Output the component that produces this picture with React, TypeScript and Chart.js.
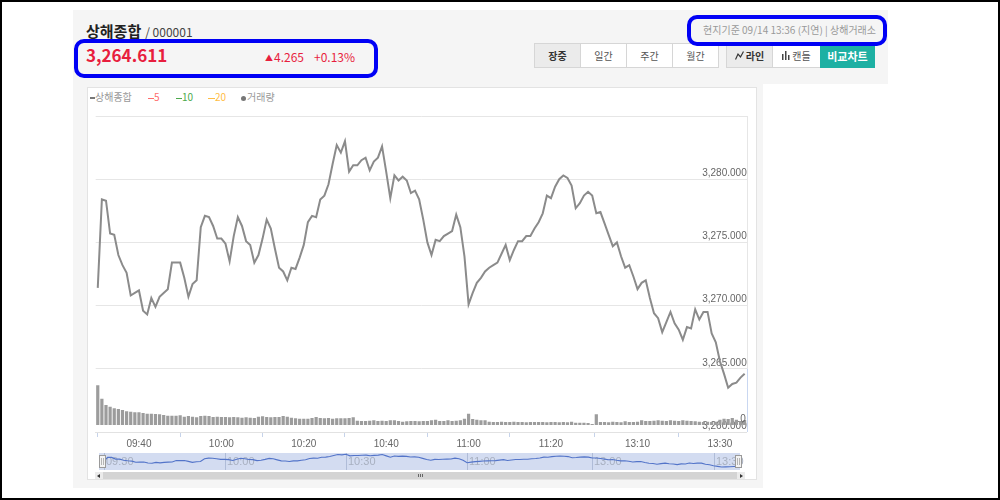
import React, { useEffect, useRef } from "react";
import { Chart, registerables } from "chart.js";

Chart.register(...registerables);

// ---------- data ----------
const SESSIONS: [string, string][] = [
  ["09:30", "11:30"],
  ["13:00", "13:36"],
];

function minuteLabels(sessions: [string, string][]): string[] {
  const toM = (s: string) => {
    const [h, m] = s.split(":").map(Number);
    return h * 60 + m;
  };
  const out: string[] = [];
  for (const [a, b] of sessions) {
    for (let t = toM(a); t <= toM(b); t++) {
      const h = Math.floor(t / 60);
      const m = t % 60;
      out.push(`${String(h).padStart(2, "0")}:${String(m).padStart(2, "0")}`);
    }
  }
  return out;
}

const TIME_LABELS = minuteLabels(SESSIONS);

const PRICE: number[] = [
  3271.4, 3278.4, 3278.3, 3275.7, 3275.6, 3274.0, 3273.2, 3272.6, 3270.8, 3271.0,
  3271.2, 3269.6, 3269.3, 3270.6, 3269.9, 3270.7, 3271.0, 3271.3, 3273.4, 3273.4,
  3273.4, 3272.2, 3270.7, 3271.7, 3272.0, 3276.2, 3277.1, 3277.0, 3276.3, 3275.3,
  3275.3, 3274.9, 3273.5, 3275.5, 3277.0, 3276.3, 3275.1, 3274.8, 3273.4, 3274.0,
  3275.3, 3276.8, 3276.1, 3274.5, 3273.0, 3272.7, 3272.0, 3273.0, 3272.9, 3273.8,
  3274.8, 3276.6, 3277.1, 3277.0, 3278.4, 3278.7, 3279.6, 3281.2, 3282.7, 3282.1,
  3283.0, 3280.6, 3281.1, 3281.1, 3281.5, 3281.7, 3280.7, 3281.4, 3281.7, 3282.6,
  3280.6, 3278.5, 3280.3, 3279.9, 3280.2, 3279.9, 3278.9, 3279.1, 3278.4, 3276.8,
  3275.0, 3274.0, 3275.2, 3275.1, 3275.5, 3275.7, 3275.9, 3277.2, 3276.2, 3273.9,
  3270.1, 3271.0, 3271.8, 3272.2, 3272.7, 3273.0, 3273.2, 3273.4, 3274.1, 3274.8,
  3273.6, 3274.4, 3275.1, 3275.1, 3275.5, 3275.5, 3276.1, 3276.6, 3277.3, 3278.7,
  3278.5, 3279.4, 3280.0, 3280.3, 3280.1, 3279.5, 3277.7, 3278.1, 3278.7, 3279.0,
  3278.7, 3277.3, 3277.4, 3276.5, 3275.6, 3274.7, 3275.0, 3273.9, 3273.0, 3273.2,
  3272.3, 3271.3, 3271.8, 3272.0, 3270.6, 3269.4, 3269.0, 3267.9, 3268.7, 3269.5,
  3268.6, 3268.1, 3267.3, 3268.3, 3268.2, 3269.7, 3268.9, 3269.5, 3269.5, 3267.8,
  3267.1, 3265.6, 3264.6, 3263.5, 3263.8, 3263.9, 3264.3, 3264.611,
];

const VOLUME: number[] = [
  39.7, 26.3, 20, 18.3, 16.7, 16, 15, 13.7, 13.3, 12.7,
  12.7, 12, 11.3, 11.3, 11, 10.7, 10, 9.3, 9.3, 9.3,
  9.7, 8.3, 9, 8.3, 7.7, 9, 9.3, 9, 8, 8.3,
  8, 8, 7.7, 8, 7.7, 7.3, 7.7, 7.3, 7, 8.3,
  8.7, 8, 7.7, 8, 8, 9, 8.3, 7.3, 6.7, 6.3,
  6.3, 6.3, 7, 8, 7, 6.7, 7, 6.3, 6.7, 6.7,
  6.7, 7, 7.7, 4.3, 4, 4, 4.3, 4.7, 4, 4.3,
  4, 4.7, 4.7, 4, 3.3, 3.7, 4, 4, 3.7, 4,
  4, 4.7, 5.3, 4, 4, 4.7, 4, 4.3, 4.7, 6.3,
  11.3, 6, 5.3, 4.7, 4.7, 3.3, 3, 3, 3.3, 3,
  3, 3.3, 3, 3, 2.7, 3, 3, 3, 3, 2.7,
  3, 3, 2.7, 3, 2.7, 3.3, 2.3, 2.3, 2.3, 2,
  1, 10.7, 3, 3, 2.7, 3.3, 3, 2.7, 3.7, 3,
  3, 3.3, 4.7, 4, 4, 4.3, 4.7, 4.3, 4, 4.7,
  4.3, 4, 4.7, 4.3, 4, 3.7, 3.3, 3, 3.3, 3,
  3.3, 5.3, 6.3, 6, 7, 5.3, 4, 5,
];

const X_TICK_LABELS = ["09:40", "10:00", "10:20", "10:40", "11:00", "11:20", "13:10", "13:30"];
const Y_TICKS = [3260, 3265, 3270, 3275, 3280, 3285];
const NAV_TICK_LABELS = ["09:30", "10:00", "10:30", "11:00", "13:00", "13:30"];

// ---------- styling ----------
const NUM_FONT = "'Liberation Sans Narrow', 'Liberation Sans', Arial, sans-serif";
const KR_FONT = "'Noto Sans CJK KR', 'Noto Sans', sans-serif";

const fmtPrice = (v: number) =>
  v.toLocaleString("en-US", { minimumFractionDigits: 3, maximumFractionDigits: 3 });

export default function App() {
  const mainRef = useRef<HTMLCanvasElement>(null);
  const navRef = useRef<HTMLCanvasElement>(null);

  useEffect(() => {
    const mainPlugin = {
      id: "mainExtras",
      afterDatasetsDraw(chart: any) {
        const { ctx, chartArea, scales } = chart;
        const y = scales.y;
        const y1 = scales.y1;
        ctx.save();
        // right border of plot area
        ctx.strokeStyle = "#e6e6e6";
        ctx.lineWidth = 1;
        const rx = Math.round(chartArea.right) + 0.5;
        ctx.beginPath();
        ctx.moveTo(rx, chartArea.top);
        ctx.lineTo(rx, y.getPixelForValue(3265));
        ctx.stroke();
        ctx.strokeStyle = "#c9d7f1";
        ctx.beginPath();
        ctx.moveTo(rx, y.getPixelForValue(3265));
        ctx.lineTo(rx, chartArea.bottom);
        ctx.stroke();
        // volume zero label
        ctx.fillStyle = "#666";
        ctx.font = `10px ${NUM_FONT}`;
        ctx.textAlign = "right";
        ctx.textBaseline = "middle";
        ctx.fillText("0", chartArea.right - 1, y1.getPixelForValue(0) - 6);
        ctx.restore();
      },
    };

    const main = new Chart(mainRef.current!, {
      type: "bar",
      data: {
        labels: TIME_LABELS,
        datasets: [
          {
            type: "line",
            label: "상해종합",
            data: PRICE,
            yAxisID: "y",
            borderColor: "#8b8b8b",
            borderWidth: 2,
            pointRadius: 0,
            tension: 0,
            order: 0,
          } as any,
          {
            type: "bar",
            label: "거래량",
            data: VOLUME,
            yAxisID: "y1",
            backgroundColor: "#9c9c9c",
            categoryPercentage: 1,
            barPercentage: 0.78,
            order: 1,
          },
        ],
      },
      options: {
        responsive: false,
        maintainAspectRatio: false,
        animation: false,
        devicePixelRatio: 1,
        layout: { padding: { top: 29, left: 8.7, right: 10.3, bottom: 0 } },
        plugins: { legend: { display: false }, tooltip: { enabled: false } },
        scales: {
          x: {
            type: "category",
            offset: true,
            grid: {
              display: true,
              drawOnChartArea: false,
              drawTicks: true,
              tickLength: 5,
              color: "#c6d3ea",
            },
            border: { display: true, color: "#e2e2e2" },
            ticks: {
              autoSkip: false,
              maxRotation: 0,
              minRotation: 0,
              padding: 1,
              color: "#666",
              font: { size: 10, family: NUM_FONT },
              callback: (v: any) => {
                const l = TIME_LABELS[v as number];
                return X_TICK_LABELS.includes(l) ? l : null;
              },
            },
            afterFit: (s: any) => {
              s.height = 20;
            },
          },
          y: {
            position: "right",
            min: 3260,
            max: 3285,
            afterBuildTicks: (s: any) => {
              s.ticks = Y_TICKS.map((v) => ({ value: v }));
            },
            grid: { color: "#e6e6e6", drawTicks: false },
            border: { display: false },
            ticks: {
              mirror: true,
              padding: 0,
              labelOffset: -6,
              color: "#666",
              font: { size: 10, family: NUM_FONT },
              callback: (v: any) => (v === 3285 ? "" : fmtPrice(v as number)),
            },
            afterFit: (s: any) => {
              s.width = 0;
            },
          },
          y1: {
            position: "right",
            display: false,
            min: -7,
            max: 309,
          },
        },
      },
      plugins: [mainPlugin],
    });

    const navPlugin = {
      id: "navExtras",
      beforeDatasetsDraw(chart: any) {
        const { ctx, chartArea, scales } = chart;
        const x = scales.x;
        ctx.save();
        // selection fill
        ctx.fillStyle = "#d3dcf1";
        ctx.fillRect(2, chartArea.top, 641, chartArea.bottom - chartArea.top);
        // grid + labels
        ctx.font = `11px ${NUM_FONT}`;
        ctx.textAlign = "left";
        ctx.textBaseline = "middle";
        for (const lab of NAV_TICK_LABELS) {
          const i = TIME_LABELS.indexOf(lab);
          if (i < 0) continue;
          const px = Math.round(x.getPixelForValue(i)) + 0.5;
          ctx.strokeStyle = "rgba(160,174,205,0.7)";
          ctx.lineWidth = 1;
          ctx.beginPath();
          ctx.moveTo(px, chartArea.top);
          ctx.lineTo(px, chartArea.bottom);
          ctx.stroke();
          ctx.fillStyle = "#a8b0c0";
          ctx.fillText(lab, px + 1.5, (chartArea.top + chartArea.bottom) / 2 + 0.5);
        }
        ctx.restore();
      },
      afterDatasetsDraw(chart: any) {
        const { ctx } = chart;
        ctx.save();
        const handle = (hx: number) => {
          ctx.fillStyle = "#f3f3f3";
          ctx.strokeStyle = "#9a9a9a";
          ctx.lineWidth = 1;
          ctx.fillRect(hx, 3, 6, 12);
          ctx.strokeRect(hx + 0.5, 3.5, 6, 12);
          ctx.strokeStyle = "#b5b5b5";
          ctx.beginPath();
          ctx.moveTo(hx + 2.5, 6);
          ctx.lineTo(hx + 2.5, 13);
          ctx.moveTo(hx + 4.5, 6);
          ctx.lineTo(hx + 4.5, 13);
          ctx.stroke();
        };
        handle(2);
        handle(638);
        ctx.restore();
      },
    };

    const nav = new Chart(navRef.current!, {
      type: "line",
      data: {
        labels: TIME_LABELS,
        datasets: [
          {
            data: PRICE,
            borderColor: "#5374c9",
            borderWidth: 1.1,
            pointRadius: 0,
            tension: 0,
            fill: false,
          },
        ],
      },
      options: {
        responsive: false,
        maintainAspectRatio: false,
        animation: false,
        devicePixelRatio: 1,
        layout: { padding: { left: 6.5, right: 7.2, top: 1, bottom: 1 } },
        plugins: { legend: { display: false }, tooltip: { enabled: false } },
        scales: {
          x: { display: false, offset: false },
          y: { display: false, min: 3259, max: 3285 },
        },
      },
      plugins: [navPlugin],
    });

    return () => {
      main.destroy();
      nav.destroy();
    };
  }, []);

  const abs = (s: React.CSSProperties): React.CSSProperties => ({ position: "absolute", ...s });

  const btnBase: React.CSSProperties = {
    boxSizing: "border-box",
    height: 25,
    border: "1px solid #d6d6d6",
    background: "#fff",
    color: "#555",
    fontSize: 10,
    fontFamily: KR_FONT,
    display: "flex",
    alignItems: "center",
    justifyContent: "center",
    marginLeft: -1,
  };

  return (
    <div style={abs({ left: 0, top: 0, width: 1000, height: 500, background: "#fff", overflow: "hidden" })}>
      {/* gray panels */}
      <div style={abs({ left: 73, top: 10, width: 815, height: 74, background: "#f5f5f5" })} />
      <div style={abs({ left: 73, top: 84, width: 690, height: 404, background: "#f5f5f5" })} />

      {/* header */}
      <div style={abs({ left: 86, top: 19, fontFamily: KR_FONT, lineHeight: "22px", whiteSpace: "nowrap" })}>
        <span style={{ fontSize: 15, fontWeight: 700, color: "#222" }}>상해종합</span>
        <span style={{ fontSize: 12, color: "#444", marginLeft: 4 }}>/ 000001</span>
      </div>
      <div style={abs({ left: 86, top: 44, fontFamily: KR_FONT, fontSize: 17, fontWeight: 700, color: "#e81e3e", lineHeight: "22px" })}>
        3,264.611
      </div>
      <div style={abs({ left: 265, top: 47, fontFamily: KR_FONT, color: "#e81e3e", lineHeight: "16px", whiteSpace: "nowrap" })}>
        <span style={{ fontSize: 8, verticalAlign: "1px" }}>▲</span>
        <span style={{ fontSize: 12, marginLeft: 1 }}>4.265</span>
        <span style={{ fontSize: 12, marginLeft: 10 }}>+0.13%</span>
      </div>
      <div style={abs({ right: 124, top: 23, fontFamily: KR_FONT, fontSize: 10, color: "#999", lineHeight: "14px", whiteSpace: "nowrap" })}>
        현지기준 09/14 13:36 (지연) | 상해거래소
      </div>

      {/* buttons */}
      <div style={abs({ left: 535, top: 43, display: "flex" })}>
        <div style={{ ...btnBase, width: 47, background: "#ebebeb", color: "#333", fontWeight: 700 }}>장중</div>
        <div style={{ ...btnBase, width: 47 }}>일간</div>
        <div style={{ ...btnBase, width: 47 }}>주간</div>
        <div style={{ ...btnBase, width: 47 }}>월간</div>
      </div>
      <div style={abs({ left: 727, top: 43, display: "flex" })}>
        <div style={{ ...btnBase, width: 47, background: "#ebebeb", color: "#333", fontWeight: 700 }}>
          <svg width="9" height="9" style={{ marginRight: 2 }}>
            <polyline points="0.5,8.5 3,3 5.5,6 8.5,0.5" fill="none" stroke="#333" strokeWidth="1.2" />
          </svg>
          라인
        </div>
        <div style={{ ...btnBase, width: 49 }}>
          <svg width="8" height="9" style={{ marginRight: 2 }}>
            <rect x="0" y="3" width="1.5" height="6" fill="#444" />
            <rect x="3" y="0" width="1.5" height="9" fill="#444" />
            <rect x="6" y="4" width="1.5" height="5" fill="#444" />
          </svg>
          캔들
        </div>
        <div style={{ ...btnBase, width: 55, background: "#1db0a3", border: "1px solid #1db0a3", color: "#fff", fontWeight: 700, fontSize: 11 }}>
          비교차트
        </div>
      </div>

      {/* chart box */}
      <div style={abs({ left: 87, top: 87, width: 670, height: 393, boxSizing: "border-box", background: "#fff", border: "1px solid #e3e3e3" })} />

      {/* legend */}
      <div style={abs({ left: 90, top: 90, height: 14, fontFamily: KR_FONT, fontSize: 10, lineHeight: "14px", whiteSpace: "nowrap" })}>
        <span style={abs({ left: 0, top: 0, color: "#999" })}>
          <span style={{ display: "inline-block", width: 5, height: 2, background: "#777", verticalAlign: "middle", marginRight: 0 }} />
          상해종합
        </span>
        <span style={abs({ left: 58, top: 0, color: "#ff6d6d" })}>
          <span style={{ display: "inline-block", width: 6, height: 1.5, background: "#ff6d6d", verticalAlign: "middle" }} />5
        </span>
        <span style={abs({ left: 86, top: 0, color: "#4caa4c" })}>
          <span style={{ display: "inline-block", width: 6, height: 1.5, background: "#4caa4c", verticalAlign: "middle" }} />10
        </span>
        <span style={abs({ left: 118, top: 0, color: "#ffbd45" })}>
          <span style={{ display: "inline-block", width: 7, height: 1.5, background: "#ffbd45", verticalAlign: "middle" }} />20
        </span>
        <span style={abs({ left: 151, top: 0, color: "#999" })}>
          <span style={{ display: "inline-block", width: 5, height: 5, borderRadius: 3, background: "#777", verticalAlign: "middle", marginRight: 1 }} />
          거래량
        </span>
      </div>

      {/* main chart */}
      <canvas ref={mainRef} width={670} height={365} style={abs({ left: 87, top: 87, width: 670, height: 365 })} />

      {/* navigator */}
      <canvas ref={navRef} width={648} height={19} style={abs({ left: 97, top: 452, width: 648, height: 19 })} />

      {/* scrollbar */}
      <div style={abs({ left: 95, top: 472, width: 650, height: 7, background: "#d4d4d4" })} />
      <div style={abs({ left: 95, top: 472, width: 8, height: 7, background: "#ebebeb" })}>
        <div style={abs({ left: 2, top: 1.5, width: 0, height: 0, borderTop: "2px solid transparent", borderBottom: "2px solid transparent", borderRight: "3px solid #333" })} />
      </div>
      <div style={abs({ left: 737, top: 472, width: 8, height: 7, background: "#ebebeb" })}>
        <div style={abs({ left: 3, top: 1.5, width: 0, height: 0, borderTop: "2px solid transparent", borderBottom: "2px solid transparent", borderLeft: "3px solid #333" })} />
      </div>
      <div style={abs({ left: 418, top: 474, width: 1, height: 3, background: "#666" })} />
      <div style={abs({ left: 420, top: 474, width: 1, height: 3, background: "#666" })} />
      <div style={abs({ left: 422, top: 474, width: 1, height: 3, background: "#666" })} />

      {/* highlight boxes */}
      <div style={abs({ left: 74, top: 39, width: 304, height: 39, boxSizing: "border-box", border: "4px solid #0000f5", borderRadius: 10 })} />
      <div style={abs({ left: 687, top: 15, width: 200, height: 31, boxSizing: "border-box", border: "4px solid #0000f5", borderRadius: 10 })} />

      {/* outer frame */}
      <div style={abs({ left: 0, top: 0, width: 1000, height: 500, boxSizing: "border-box", border: "2px solid #000" })} />
    </div>
  );
}
